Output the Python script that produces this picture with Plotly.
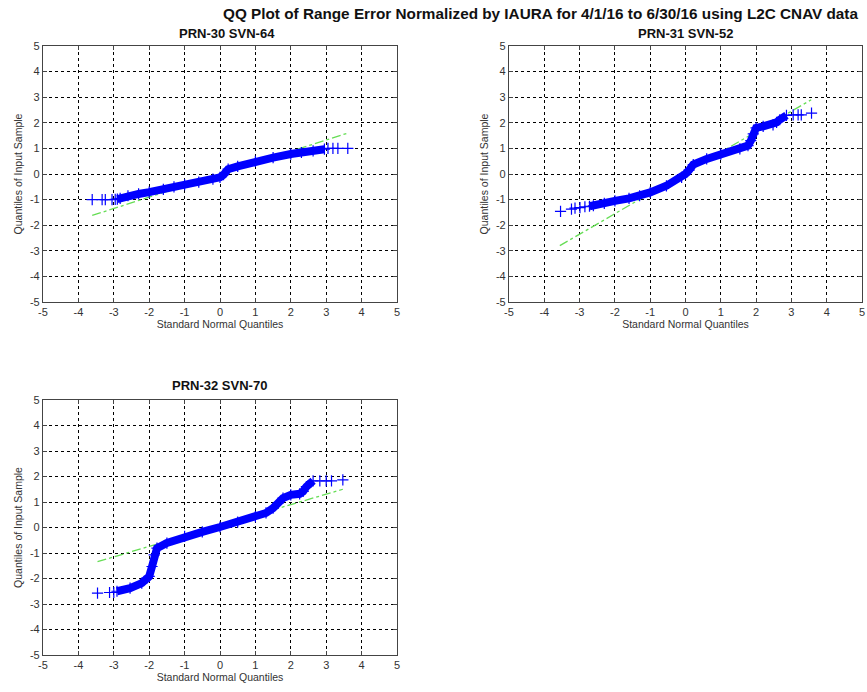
import plotly.graph_objects as go

# ---------------- data ----------------
main_title = "QQ Plot of Range Error Normalized by IAURA for 4/1/16 to 6/30/16 using L2C CNAV data"
panel_titles = ["PRN-30 SVN-64", "PRN-31 SVN-52", "PRN-32 SVN-70"]
x_label = "Standard Normal Quantiles"
y_label = "Quantiles of Input Sample"
tick_values = [-5, -4, -3, -2, -1, 0, 1, 2, 3, 4, 5]
tick_labels = ["-5", "-4", "-3", "-2", "-1", "0", "1", "2", "3", "4", "5"]

# PRN-30 SVN-64
p30_tail_lo_x = [-3.61, -3.33, -3.24, -3.05, -2.96]
p30_tail_lo_y = [-1.00, -1.00, -1.00, -1.00, -0.99]
p30_band_x = [-2.90, -2.82, -2.6, -2.3, -2.0, -1.6, -1.3, -1.0, -0.6, -0.2, 0.0, 0.1, 0.23, 0.5, 1.0, 1.5, 2.0, 2.3, 2.63, 2.95]
p30_band_y = [-0.98, -0.95, -0.85, -0.78, -0.71, -0.60, -0.50, -0.42, -0.32, -0.20, -0.13, -0.03, 0.19, 0.30, 0.49, 0.64, 0.78, 0.84, 0.90, 0.97]
p30_tail_hi_x = [3.05, 3.19, 3.33, 3.61]
p30_tail_hi_y = [1.00, 1.00, 1.00, 1.00]
p30_ref_x = [-3.61, 3.61]
p30_ref_y = [-1.62, 1.60]

# PRN-31 SVN-52
p31_tail_lo_x = [-3.54, -3.23, -3.13, -2.99, -2.85]
p31_tail_lo_y = [-1.46, -1.37, -1.33, -1.31, -1.28]
p31_band_x = [-2.72, -2.61, -2.3, -2.0, -1.6, -1.3, -1.0, -0.54, -0.11, 0.0, 0.1, 0.22, 0.6, 1.0, 1.54, 1.77, 1.85, 1.92, 2.0, 2.2, 2.48, 2.58, 2.67, 2.86]
p31_band_y = [-1.26, -1.24, -1.15, -1.05, -0.95, -0.85, -0.72, -0.46, -0.13, 0.00, 0.15, 0.37, 0.59, 0.78, 0.98, 1.11, 1.30, 1.57, 1.80, 1.86, 1.92, 2.02, 2.12, 2.29]
p31_tail_hi_x = [3.05, 3.19, 3.28, 3.57]
p31_tail_hi_y = [2.31, 2.31, 2.31, 2.38]
p31_ref_x = [-3.56, 3.56]
p31_ref_y = [-2.80, 2.90]

# PRN-32 SVN-70
p32_tail_lo_x = [-3.46, -3.12, -3.00]
p32_tail_lo_y = [-2.57, -2.55, -2.55]
p32_band_x = [-2.91, -2.54, -2.21, -2.0, -1.92, -1.86, -1.78, -1.5, -1.0, -0.5, 0.0, 0.5, 1.0, 1.3, 1.5, 1.78, 2.0, 2.25, 2.35, 2.44, 2.63]
p32_band_y = [-2.50, -2.38, -2.18, -1.92, -1.53, -1.07, -0.81, -0.61, -0.35, -0.17, 0.02, 0.21, 0.43, 0.57, 0.76, 1.15, 1.28, 1.32, 1.42, 1.60, 1.83]
p32_tail_hi_x = [2.82, 3.00, 3.15, 3.47]
p32_tail_hi_y = [1.83, 1.83, 1.83, 1.87]
p32_ref_x = [-3.46, 3.47]
p32_ref_y = [-1.34, 1.50]

panels = [
    (p30_tail_lo_x, p30_tail_lo_y, p30_band_x, p30_band_y, p30_tail_hi_x, p30_tail_hi_y, p30_ref_x, p30_ref_y),
    (p31_tail_lo_x, p31_tail_lo_y, p31_band_x, p31_band_y, p31_tail_hi_x, p31_tail_hi_y, p31_ref_x, p31_ref_y),
    (p32_tail_lo_x, p32_tail_lo_y, p32_band_x, p32_band_y, p32_tail_hi_x, p32_tail_hi_y, p32_ref_x, p32_ref_y),
]

# ---------------- layout geometry ----------------
W, H = 867, 692

def fx(px):
    return px / W

def fy(py):
    return 1 - py / H

x_domains = [[fx(43), fx(397)], [fx(509), fx(862)], [fx(43), fx(397)]]
y_domains = [[fy(302), fy(46)], [fy(302), fy(46)], [fy(655), fy(400)]]

BLUE = "#0000ff"
GREEN = "#66dd55"
FONT = "Liberation Sans, Arial, sans-serif"

fig = go.Figure()

for i, (tlx, tly, bx, by, thx, thy, rx, ry) in enumerate(panels):
    xa = "x" if i == 0 else f"x{i+1}"
    ya = "y" if i == 0 else f"y{i+1}"
    fig.add_trace(go.Scatter(x=rx, y=ry, mode="lines", xaxis=xa, yaxis=ya,
                             line=dict(color=GREEN, width=1.3, dash="dashdot"),
                             showlegend=False, hoverinfo="skip"))
    fig.add_trace(go.Scatter(x=bx, y=by, mode="lines+markers", xaxis=xa, yaxis=ya,
                             line=dict(color=BLUE, width=8),
                             marker=dict(symbol="cross-thin", size=8, line=dict(color=BLUE, width=1.2)),
                             showlegend=False))
    fig.add_trace(go.Scatter(x=tlx + thx, y=tly + thy, mode="markers", xaxis=xa, yaxis=ya,
                             marker=dict(symbol="cross-thin", size=8, line=dict(color=BLUE, width=1.2)),
                             showlegend=False))

axis_common = dict(
    range=[-5, 5], tickmode="array", tickvals=tick_values, ticktext=tick_labels,
    showgrid=True, gridcolor="#000000", griddash="dot", gridwidth=1,
    zeroline=False, showline=True, linecolor="#444444", linewidth=1.2, mirror="ticks",
    ticks="inside", ticklen=4, tickcolor="#444444",
    tickfont=dict(family=FONT, size=11, color="#333333"),
    fixedrange=True, automargin=False,
)

layout = dict(
    width=W, height=H, plot_bgcolor="white", paper_bgcolor="white",
    margin=dict(l=0, r=0, t=0, b=0), showlegend=False,
    font=dict(family=FONT, color="#222222"),
)
for i in range(3):
    xk = "xaxis" if i == 0 else f"xaxis{i+1}"
    yk = "yaxis" if i == 0 else f"yaxis{i+1}"
    ya = "y" if i == 0 else f"y{i+1}"
    xa = "x" if i == 0 else f"x{i+1}"
    layout[xk] = dict(axis_common, domain=x_domains[i], anchor=ya,
                      title=dict(text=x_label, font=dict(family=FONT, size=10.5, color="#333333"), standoff=3))
    layout[yk] = dict(axis_common, domain=y_domains[i], anchor=xa,
                      title=dict(text=y_label, font=dict(family=FONT, size=10.5, color="#333333"), standoff=5))

fig.update_layout(**layout)

annotations = [
    dict(text=f"<b>{main_title}</b>", x=fx(540), y=fy(14), xref="paper", yref="paper",
         xanchor="center", yanchor="middle", showarrow=False, font=dict(family=FONT, size=15.3, color="#111111")),
]
title_pos = [(227, 33), (685, 33), (220, 385)]
for t, (px, py) in zip(panel_titles, title_pos):
    annotations.append(dict(text=f"<b>{t}</b>", x=fx(px), y=fy(py), xref="paper", yref="paper",
                            xanchor="center", yanchor="middle", showarrow=False,
                            font=dict(family=FONT, size=13, color="#111111")))
fig.update_layout(annotations=annotations)

fig.write_html("out.html", config={"displayModeBar": False},
               post_script="document.body.style.margin='0';")
